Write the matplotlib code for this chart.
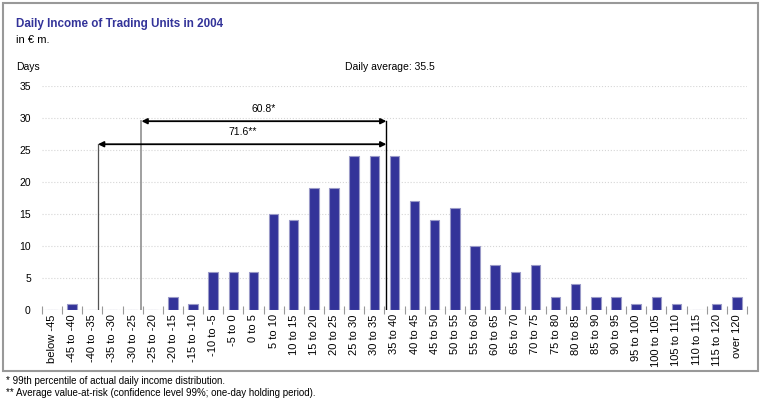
import matplotlib.pyplot as plt
from matplotlib.patches import Rectangle
import numpy as np

plt.rcParams['font.family'] = ['Liberation Sans', 'DejaVu Sans']

# bins of daily income (EUR m) and number of days in each
categories = ['below -45', '-45 to -40', '-40 to -35', '-35 to -30', '-30 to -25',
              '-25 to -20', '-20 to -15', '-15 to -10', '-10 to -5', '-5 to 0',
              '0 to 5', '5 to 10', '10 to 15', '15 to 20', '20 to 25', '25 to 30',
              '30 to 35', '35 to 40', '40 to 45', '45 to 50', '50 to 55', '55 to 60',
              '60 to 65', '65 to 70', '70 to 75', '75 to 80', '80 to 85', '85 to 90',
              '90 to 95', '95 to 100', '100 to 105', '105 to 110', '110 to 115',
              '115 to 120', 'over 120']
days = [0, 1, 0, 0, 0, 0, 2, 1, 6, 6, 6, 15, 14, 19, 19, 24, 24, 24, 17, 14, 16,
        10, 7, 6, 7, 2, 4, 2, 2, 1, 2, 1, 0, 1, 2]

daily_average = 35.5
pct99 = 60.8      # 99th percentile of actual daily income distribution
avg_var = 71.6    # average value-at-risk

bar_color = '#333399'


def to_x(v):
    # income value -> category position (category 1 is centred on -42.5)
    return (v + 47.5) / 5.0


fig = plt.figure(figsize=(7.63, 4.03), dpi=100)
ax = fig.add_axes([0.055, 0.2308, 0.924, 0.5558])

x = np.arange(len(categories))
ax.bar(x, days, width=0.47, color=bar_color, edgecolor='#9a9ac8', linewidth=0.8, zorder=3)

ax.set_xlim(-0.5, len(categories) - 0.5)
ax.set_ylim(0, 35)
ax.set_yticks(np.arange(0, 36, 5))
ax.tick_params(axis='y', length=0, labelsize=7.5, pad=8)

ax.set_xticks(x)
ax.set_xticklabels(categories, rotation=90, fontsize=8)
ax.tick_params(axis='x', which='major', length=0, pad=3)
ax.set_xticks(np.arange(-0.5, len(categories), 1), minor=True)
ax.tick_params(axis='x', which='minor', length=6, direction='inout', color='#999999', width=0.8)

for s in ax.spines.values():
    s.set_visible(False)
ax.grid(axis='y', color='#d6d6d6', linestyle=':', linewidth=0.8, zorder=0)
ax.axhline(0, color='#cccccc', linewidth=0.8, zorder=1)

# VaR / percentile markers
x_avg = to_x(daily_average)
x_pct = to_x(daily_average - pct99)
x_var = to_x(daily_average - avg_var)
y_pct = 29.5
y_var = 25.9

ax.plot([x_avg, x_avg], [0, y_pct], color='black', linewidth=1, zorder=4)
ax.plot([x_pct, x_pct], [0, y_pct], color='#999999', linewidth=1.3, zorder=4)
ax.plot([x_var, x_var], [0, y_var], color='#555555', linewidth=0.9, zorder=4)

for x0, yy, label in [(x_pct, y_pct, '60.8*'), (x_var, y_var, '71.6**')]:
    ax.annotate('', xy=(x_avg, yy), xytext=(x0, yy),
                arrowprops=dict(arrowstyle='<|-|>', color='black', lw=1.3,
                                mutation_scale=8, shrinkA=0, shrinkB=0), zorder=5)
    ax.text((x0 + x_avg) / 2, yy + 1.2, label, ha='center', va='bottom', fontsize=7.5)

# texts around the chart
fig.text(16 / 763, 1 - 27 / 403, 'Daily Income of Trading Units in 2004', color=bar_color,
         fontsize=8.4, fontweight='bold', va='baseline')
fig.text(16 / 763, 1 - 43 / 403, 'in € m.', fontsize=8, va='baseline')
fig.text(16 / 763, 1 - 70 / 403, 'Days', fontsize=7.5, va='baseline')
fig.text(390 / 763, 1 - 70 / 403, 'Daily average: 35.5', fontsize=7.5, ha='center', va='baseline')

fig.text(6 / 763, 1 - 384 / 403, '* 99th percentile of actual daily income distribution.',
         fontsize=7, va='baseline')
fig.text(6 / 763, 1 - 396 / 403,
         '** Average value-at-risk (confidence level 99%; one-day holding period).',
         fontsize=7, va='baseline')

fig.patches.append(Rectangle((3 / 763, 1 - 371 / 403), 755 / 763, 368 / 403,
                             transform=fig.transFigure, fill=False,
                             edgecolor='#999999', linewidth=1.5))

fig.savefig('out.png', dpi=100)
